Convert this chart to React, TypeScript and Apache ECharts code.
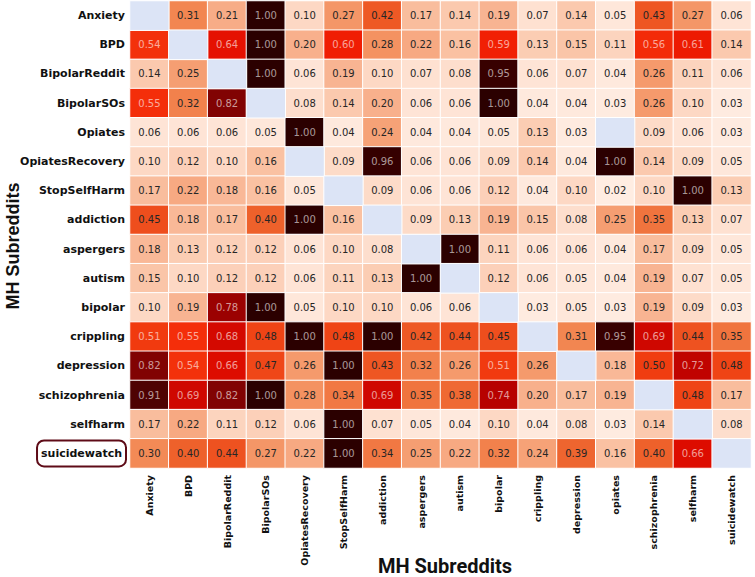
import React, { useEffect, useRef } from "react";
import * as echarts from "echarts";

const rowLabels = [
  "Anxiety", "BPD", "BipolarReddit", "BipolarSOs", "Opiates", "OpiatesRecovery",
  "StopSelfHarm", "addiction", "aspergers", "autism", "bipolar", "crippling",
  "depression", "schizophrenia", "selfharm", "suicidewatch",
];
const colLabels = [
  "Anxiety", "BPD", "BipolarReddit", "BipolarSOs", "OpiatesRecovery", "StopSelfHarm",
  "addiction", "aspergers", "autism", "bipolar", "crippling", "depression",
  "opiates", "schizophrenia", "selfharm", "suicidewatch",
];

const rowAnxiety = [null, 0.31, 0.21, 1.0, 0.10, 0.27, 0.42, 0.17, 0.14, 0.19, 0.07, 0.14, 0.05, 0.43, 0.27, 0.06];
const rowBPD = [0.54, null, 0.64, 1.0, 0.20, 0.60, 0.28, 0.22, 0.16, 0.59, 0.13, 0.15, 0.11, 0.56, 0.61, 0.14];
const rowBipolarReddit = [0.14, 0.25, null, 1.0, 0.06, 0.19, 0.10, 0.07, 0.08, 0.95, 0.06, 0.07, 0.04, 0.26, 0.11, 0.06];
const rowBipolarSOs = [0.55, 0.32, 0.82, null, 0.08, 0.14, 0.20, 0.06, 0.06, 1.0, 0.04, 0.04, 0.03, 0.26, 0.10, 0.03];
const rowOpiates = [0.06, 0.06, 0.06, 0.05, 1.0, 0.04, 0.24, 0.04, 0.04, 0.05, 0.13, 0.03, null, 0.09, 0.06, 0.03];
const rowOpiatesRecovery = [0.10, 0.12, 0.10, 0.16, null, 0.09, 0.96, 0.06, 0.06, 0.09, 0.14, 0.04, 1.0, 0.14, 0.09, 0.05];
const rowStopSelfHarm = [0.17, 0.22, 0.18, 0.16, 0.05, null, 0.09, 0.06, 0.06, 0.12, 0.04, 0.10, 0.02, 0.10, 1.0, 0.13];
const rowAddiction = [0.45, 0.18, 0.17, 0.40, 1.0, 0.16, null, 0.09, 0.13, 0.19, 0.15, 0.08, 0.25, 0.35, 0.13, 0.07];
const rowAspergers = [0.18, 0.13, 0.12, 0.12, 0.06, 0.10, 0.08, null, 1.0, 0.11, 0.06, 0.06, 0.04, 0.17, 0.09, 0.05];
const rowAutism = [0.15, 0.10, 0.12, 0.12, 0.06, 0.11, 0.13, 1.0, null, 0.12, 0.06, 0.05, 0.04, 0.19, 0.07, 0.05];
const rowBipolar = [0.10, 0.19, 0.78, 1.0, 0.05, 0.10, 0.10, 0.06, 0.06, null, 0.03, 0.05, 0.03, 0.19, 0.09, 0.03];
const rowCrippling = [0.51, 0.55, 0.68, 0.48, 1.0, 0.48, 1.0, 0.42, 0.44, 0.45, null, 0.31, 0.95, 0.69, 0.44, 0.35];
const rowDepression = [0.82, 0.54, 0.66, 0.47, 0.26, 1.0, 0.43, 0.32, 0.26, 0.51, 0.26, null, 0.18, 0.50, 0.72, 0.48];
const rowSchizophrenia = [0.91, 0.69, 0.82, 1.0, 0.28, 0.34, 0.69, 0.35, 0.38, 0.74, 0.20, 0.17, 0.19, null, 0.48, 0.17];
const rowSelfharm = [0.17, 0.22, 0.11, 0.12, 0.06, 1.0, 0.07, 0.05, 0.04, 0.10, 0.04, 0.08, 0.03, 0.14, null, 0.08];
const rowSuicidewatch = [0.30, 0.40, 0.44, 0.27, 0.22, 1.0, 0.34, 0.25, 0.22, 0.32, 0.24, 0.39, 0.16, 0.40, 0.66, null];

const matrix = [
  rowAnxiety, rowBPD, rowBipolarReddit, rowBipolarSOs, rowOpiates, rowOpiatesRecovery,
  rowStopSelfHarm, rowAddiction, rowAspergers, rowAutism, rowBipolar, rowCrippling,
  rowDepression, rowSchizophrenia, rowSelfharm, rowSuicidewatch,
];

const colorStops = [
  "#fff1e8", "#fee7da", "#fdd8c4", "#fac5a8", "#f8b08c", "#f59e72",
  "#f38a56", "#f0743e", "#ee612b", "#ee4e1d", "#f03d10", "#f42e0a",
  "#f01d03", "#e20e00", "#ca0500", "#b20000", "#8c0202", "#700404",
  "#540303", "#380000", "#2b0000",
];

export default function App() {
  const ref = useRef<HTMLDivElement>(null);
  useEffect(() => {
    if (!ref.current) return;
    const chart = echarts.init(ref.current, null, { renderer: "svg" });
    const valueData: any[] = [];
    const missingData: any[] = [];
    matrix.forEach((row, y) => {
      row.forEach((v, x) => {
        if (v === null) {
          missingData.push([x, y, 0.5]);
        } else {
          valueData.push({
            value: [x, y, v],
            label: { color: v > 0.505 ? "rgba(255,255,255,0.6)" : "#262626" },
          });
        }
      });
    });
    chart.setOption({
      animation: false,
      backgroundColor: "#ffffff",
      grid: { left: 130, top: 1, right: 4, bottom: 109 },
      xAxis: {
        type: "category",
        data: colLabels,
        axisLine: { show: false },
        axisTick: { show: false },
        splitLine: { show: false },
        axisLabel: {
          rotate: 90,
          interval: 0,
          margin: 7,
          fontFamily: "DejaVu Sans",
          fontWeight: "bold",
          fontSize: 9.5,
          color: "#111",
        },
      },
      yAxis: {
        type: "category",
        data: rowLabels,
        inverse: true,
        axisLine: { show: false },
        axisTick: { show: false },
        splitLine: { show: false },
        axisLabel: {
          interval: 0,
          margin: 5,
          fontFamily: "DejaVu Sans",
          fontWeight: "bold",
          fontSize: 11,
          color: "#111",
          formatter: (v: string) => (v === "suicidewatch" ? "{box|" + v + "}" : v),
          rich: {
            box: {
              fontFamily: "DejaVu Sans",
              fontWeight: "bold",
              fontSize: 11,
              color: "#111",
              borderColor: "#5e0b17",
              borderWidth: 2,
              borderRadius: 6,
              padding: [7, 3, 6, 3],
              backgroundColor: "#fff",
            },
          },
        },
      },
      visualMap: [
        {
          show: false,
          type: "continuous",
          min: 0,
          max: 1,
          seriesIndex: 0,
          inRange: { color: colorStops },
        },
        {
          show: false,
          type: "continuous",
          min: 0,
          max: 1,
          seriesIndex: 1,
          inRange: { color: ["#dce4f6", "#dce4f6"] },
        },
      ],
      graphic: [
        {
          type: "text",
          x: 445,
          y: 566,
          style: {
            text: "MH Subreddits",
            fontFamily: "Roboto",
            fontWeight: "bold",
            fontSize: 20,
            fill: "#111",
            align: "center",
            verticalAlign: "middle",
          },
        },
        {
          type: "text",
          x: 13,
          y: 246,
          rotation: Math.PI / 2,
          style: {
            text: "MH Subreddits",
            fontFamily: "Liberation Sans",
            fontWeight: "bold",
            fontSize: 18,
            fill: "#111",
            align: "center",
            verticalAlign: "middle",
          },
        },
      ],
      series: [
        {
          type: "heatmap",
          data: valueData,
          itemStyle: { borderColor: "#ffffff", borderWidth: 1 },
          label: {
            show: true,
            fontFamily: "DejaVu Sans",
            fontSize: 10,
            formatter: (p: any) => p.value[2].toFixed(2),
          },
          emphasis: { disabled: true },
        },
        {
          type: "heatmap",
          data: missingData,
          itemStyle: { borderColor: "#ffffff", borderWidth: 1 },
          label: { show: false },
          emphasis: { disabled: true },
        },
      ],
    });
    return () => chart.dispose();
  }, []);
  return (
    <div
      ref={ref}
      style={{ position: "absolute", left: 0, top: 0, width: 755, height: 577 }}
    />
  );
}
